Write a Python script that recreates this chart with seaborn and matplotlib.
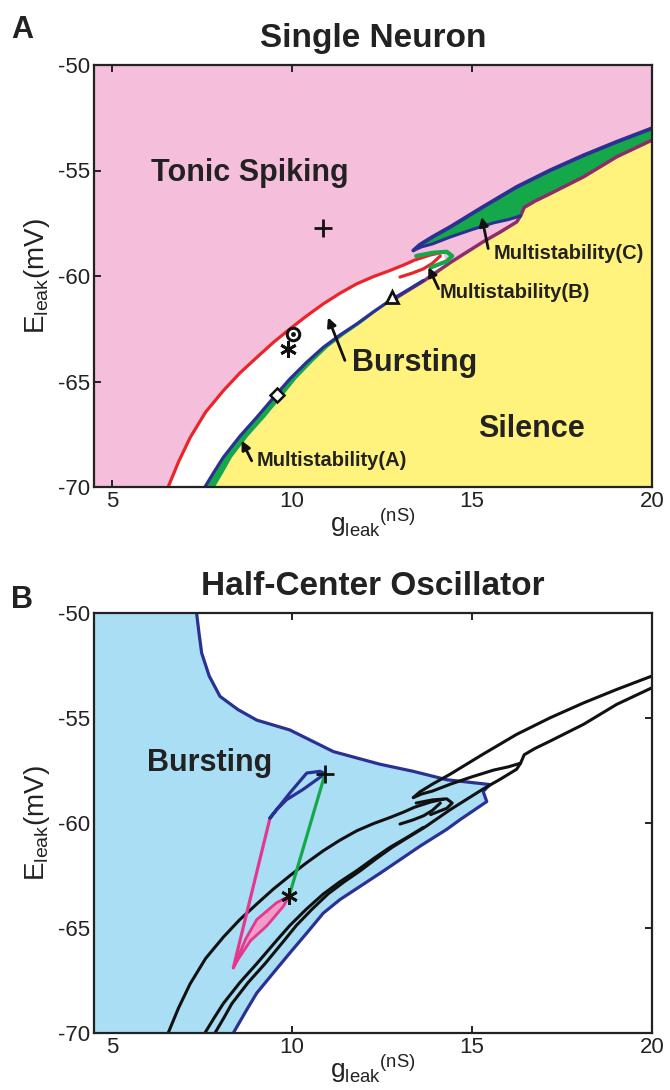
import numpy as np
import matplotlib
matplotlib.use("Agg")
import matplotlib.pyplot as plt
import seaborn as sns

sns.set_theme(style="ticks")
plt.rcParams['font.family'] = ['Liberation Sans', 'DejaVu Sans']
plt.rcParams['mathtext.fontset'] = 'custom'
plt.rcParams['mathtext.rm'] = 'Liberation Sans'
plt.rcParams['axes.unicode_minus'] = False

# ---------------- data ----------------
# Panel A boundaries (g_leak nS, E_leak mV)
red_g = [6.56, 6.85, 7.17, 7.6, 8.09, 8.55, 9.02, 9.48, 9.94, 10.4, 10.87, 11.33,
         11.80, 12.26, 12.72, 13.10, 13.40, 13.85, 14.20]
red_E = [-70.0, -68.8, -67.66, -66.45, -65.44, -64.6, -63.86, -63.15, -62.51, -61.9, -61.32, -60.82,
         -60.37, -60.03, -59.74, -59.48, -59.25, -59.0, -58.87]

red_in_g = [13.0, 13.35, 13.65, 13.9, 14.12]
red_in_E = [-60.05, -59.86, -59.66, -59.4, -59.05]

blue_g = [7.58, 7.83, 8.09, 8.55, 9.02, 9.57, 9.94, 10.4, 10.87, 11.33, 11.80, 12.26, 12.72, 13.2, 13.65]
blue_E = [-70.0, -69.3, -68.6, -67.6, -66.7, -65.6, -64.88, -64.1, -63.38, -62.8, -62.27, -61.7,
          -61.16, -60.68, -60.21]

sil_g = [7.86, 8.1, 8.33, 8.78, 9.25, 9.78, 10.12, 10.56, 11.0, 11.45, 11.9, 12.34, 12.78, 13.23, 13.68,
         14.4, 15.3, 15.8, 16.24, 16.35, 16.45, 16.75, 17.17, 18.1, 19.02, 20.0]
sil_E = [-70.0, -69.3, -68.6, -67.6, -66.7, -65.6, -64.88, -64.1, -63.38, -62.8, -62.27, -61.7,
         -61.16, -60.68, -60.21, -59.36, -58.39, -57.9, -57.44, -57.15, -56.75, -56.45, -56.1, -55.3,
         -54.35, -53.56]
N_A = 15   # points of sil that bound the multistability(A) band
C_START = 20  # sil index where region C meets the silence line

msB_g = [13.45, 13.9, 14.3, 14.45, 14.3, 13.85]
msB_E = [-59.05, -58.9, -58.85, -59.05, -59.3, -59.6]

cup_g = [13.37, 13.55, 13.9, 14.39, 15.3, 16.24, 17.17, 18.1, 19.02, 20.0]
cup_E = [-58.79, -58.52, -58.15, -57.68, -56.73, -55.78, -54.99, -54.28, -53.64, -53.0]

cin_g = [13.37, 13.6, 13.9, 14.4, 15.0, 15.6, 16.0, 16.35]
cin_E = [-58.79, -58.62, -58.48, -58.15, -57.8, -57.48, -57.33, -57.15]

# markers in panel A
pt_plus = (10.87, -57.73)
pt_circle = (10.04, -62.75)
pt_star = (9.90, -63.46)
pt_diamond = (9.59, -65.63)
pt_triangle = (12.77, -61.0)

# Panel B: half-center bursting region
hco_g = [4.5, 7.35, 7.42, 7.49, 7.7, 8.0, 8.5, 9.02, 9.94, 11.15, 12.44, 13.37, 14.3, 15.5, 15.31,
         15.41, 14.67, 14.3, 13.56, 12.44, 11.33, 10.87, 10.41, 9.94, 9.48, 9.02, 8.74, 8.37, 4.5]
hco_E = [-50.0, -50.0, -51.0, -51.9, -53.0, -53.97, -54.6, -55.1, -55.57, -56.6, -57.2, -57.54,
         -57.94, -58.17, -58.5, -58.98, -59.84, -60.3, -61.1, -62.4, -63.65, -64.29, -65.24, -66.19,
         -67.14, -68.1, -68.9, -70.0, -70.0]

loop_g = [9.39, 9.94, 10.41, 10.78, 10.92, 10.3, 9.85, 9.57, 9.39]
loop_E = [-59.76, -58.57, -57.62, -57.54, -57.65, -58.41, -58.89, -59.37, -59.76]

grn_g = [10.92, 9.92]
grn_E = [-57.65, -63.48]

mag_g = [9.39, 8.37]
mag_E = [-59.76, -66.9]

pk_g = [8.37, 8.72, 9.02, 9.57, 9.92, 9.76, 9.3, 8.85, 8.5, 8.37]
pk_E = [-66.9, -65.5, -64.6, -63.8, -63.48, -63.97, -64.9, -65.6, -66.5, -66.9]

ptB_plus = (10.92, -57.65)
ptB_star = (9.92, -63.48)

xticks = [5, 10, 15, 20]
yticks = [-50, -55, -60, -65, -70]

# ---------------- colours ----------------
PINK = '#f5bfdb'
YELLOW = '#fff37d'
GREEN = '#14a84b'
NAVY = '#2b3192'
RED = '#e8262a'
MAROON = '#8e2c68'
LBLUE = '#a9def4'
MAGENTA = '#e2398f'
PKFILL = '#f29cc8'
INK = '#222222'

fig = plt.figure(figsize=(6.7, 10.9), dpi=100)
axA = fig.add_axes([94/670, 1-487/1090, 558/670, 422/1090])
axB = fig.add_axes([94/670, 1-1033/1090, 558/670, 420/1090])


def line(ax, g, E, color, lw=2.2, z=3):
    sns.lineplot(x=g, y=E, sort=False, estimator=None, color=color, lw=lw, ax=ax, zorder=z)


def style(ax, title):
    ax.set_xlim(4.5, 20)
    ax.set_ylim(-70, -50)
    ax.set_xticks(xticks)
    ax.set_yticks(yticks)
    ax.tick_params(direction='in', top=True, right=True, length=5, width=1.4,
                   labelsize=16, pad=3, colors=INK)
    for s in ax.spines.values():
        s.set_linewidth(1.6)
        s.set_color(INK)
        s.set_zorder(10)
    ax.set_xlabel(r'g$_{\mathregular{leak}}$$^{\mathregular{(nS)}}$', fontsize=19, labelpad=-4, color=INK)
    ax.set_ylabel(r'E$_{\mathregular{leak}}$(mV)', fontsize=20, labelpad=4, color=INK)
    ax.set_title(title, fontsize=24, fontweight='bold', pad=13, color=INK)


# ---------------- Panel A ----------------
axA.set_facecolor(PINK)
axA.fill(list(sil_g) + [20.0, 20.0], list(sil_E) + [-70.0, -70.0], color=YELLOW, lw=0, zorder=1)
wg = list(red_g) + [14.3] + list(blue_g[::-1])
wE = list(red_E) + [-59.5] + list(blue_E[::-1])
axA.fill(wg, wE, color='white', lw=0, zorder=1)
axA.fill(list(blue_g) + list(sil_g[:N_A][::-1]), list(blue_E) + list(sil_E[:N_A][::-1]),
         color=GREEN, lw=0, zorder=1)
cg = list(cup_g) + list(sil_g[C_START:][::-1]) + list(cin_g[::-1])
cE = list(cup_E) + list(sil_E[C_START:][::-1]) + list(cin_E[::-1])
axA.fill(cg, cE, color=GREEN, lw=0, zorder=1)

line(axA, sil_g[12:], sil_E[12:], MAROON, lw=2.5)
line(axA, blue_g, blue_E, NAVY, lw=2.3)
line(axA, red_g, red_E, RED, lw=2.3)
line(axA, red_in_g, red_in_E, RED, lw=2.3)
line(axA, msB_g, msB_E, GREEN, lw=3.0)
line(axA, cup_g, cup_E, NAVY, lw=2.8)
line(axA, cin_g, cin_E, NAVY, lw=2.2)

mk = dict(color='#111111', zorder=6, linestyle='none')
axA.plot(*pt_plus, marker='+', ms=13, mew=2.0, **mk)
axA.plot(*pt_circle, marker='o', ms=9, mew=2.2, mfc='white', **mk)
axA.plot(*pt_circle, marker='o', ms=3.5, mew=0, **mk)
axA.plot(*pt_star, marker=(6, 2, 0), ms=12, mew=2.0, **mk)
axA.plot(*pt_diamond, marker='D', ms=7, mew=1.8, mfc='white', **mk)
axA.plot(*pt_triangle, marker='^', ms=9, mew=2.0, mfc='white', **mk)

tk = dict(fontweight='bold', color=INK, zorder=7)
axA.text(8.83, -55.13, 'Tonic Spiking', fontsize=22, ha='center', va='center', **tk)
axA.text(13.42, -64.1, 'Bursting', fontsize=22, ha='center', va='center', **tk)
axA.text(16.64, -67.24, 'Silence', fontsize=22, ha='center', va='center', **tk)
axA.text(9.03, -68.76, 'Multistability(A)', fontsize=14.5, ha='left', va='center', **tk)
axA.text(14.11, -60.77, 'Multistability(B)', fontsize=14.5, ha='left', va='center', **tk)
axA.text(15.59, -58.95, 'Multistability(C)', fontsize=14.5, ha='left', va='center', **tk)

ap = dict(arrowstyle='-|>', color='#111111', lw=2.0, mutation_scale=13, shrinkA=0, shrinkB=0)
for head, tail in [((11.0, -61.96), (11.47, -64.0)),
                   ((8.6, -67.8), (8.88, -68.76)),
                   ((13.79, -59.58), (14.07, -60.6)),
                   ((15.27, -57.2), (15.45, -58.7))]:
    axA.annotate('', xy=head, xytext=tail, arrowprops=ap, zorder=7)

style(axA, 'Single Neuron')

# ---------------- Panel B ----------------
axB.set_facecolor('white')
axB.fill(hco_g, hco_E, color=LBLUE, lw=0, zorder=1)
line(axB, hco_g[1:-1], hco_E[1:-1], NAVY, lw=2.3, z=2)

for g, E in [(red_g, red_E), (red_in_g, red_in_E), (blue_g, blue_E), (sil_g, sil_E),
             (cup_g, cup_E), (cin_g, cin_E), (msB_g, msB_E)]:
    line(axB, g, E, '#111111', lw=2.2, z=3)

axB.fill(pk_g, pk_E, facecolor=PKFILL, edgecolor=MAGENTA, lw=2.0, zorder=4)
line(axB, mag_g, mag_E, MAGENTA, lw=2.3, z=4)
line(axB, loop_g, loop_E, NAVY, lw=2.3, z=4)
line(axB, grn_g, grn_E, GREEN, lw=2.3, z=4)
axB.plot(*ptB_plus, marker='+', ms=13, mew=2.0, **mk)
axB.plot(*ptB_star, marker=(6, 2, 0), ms=12, mew=2.0, **mk)

axB.text(7.7, -57.14, 'Bursting', fontsize=22, ha='center', va='center', **tk)

style(axB, 'Half-Center Oscillator')

fig.text(0.017, 0.9725, 'A', fontsize=22, fontweight='bold', va='center', ha='left', color=INK)
fig.text(0.017, 0.4495, 'B', fontsize=22, fontweight='bold', va='center', ha='left', color=INK)

fig.savefig('out.png', dpi=100)
